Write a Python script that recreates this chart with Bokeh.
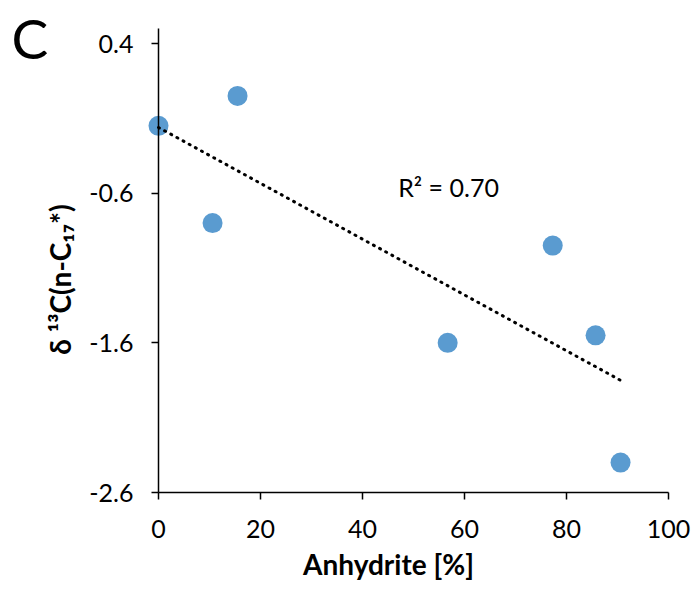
import numpy as np
from bokeh.plotting import figure
from bokeh.models import FixedTicker, Range1d, Label, LinearAxis
from bokeh.embed import file_html
from bokeh.resources import INLINE

# ---- data ----
anhydrite = [0.0, 15.5, 10.6, 56.7, 77.3, 85.7, 90.6]
d13c = [-0.15, 0.05, -0.80, -1.60, -0.95, -1.55, -2.40]
x_ticks = [0, 20, 40, 60, 80, 100]
y_ticks = [-2.6, -1.6, -0.6, 0.4]
y_tick_labels = ["-2.6", "-1.6", "-0.6", "0.4"]
r2_text = "R\u00b2 = 0.70"
panel_letter = "C"
x_title = "Anhydrite [%]"
y_title = "\u03b4 \u00b9\u00b3C(n-C\u2081\u2087*)"

FONT = "Lato"
W, H = 697, 589
# pixel geometry of the plot (x=0 and y=0.4 positions, scale)
X0_PX, PX_PER_X = 158.0, 5.1
Y_TOP_TICK_PX, PX_PER_Y = 43.0, 149.67

x_start = -X0_PX / PX_PER_X
x_end = x_start + W / PX_PER_X
y_end = y_ticks[-1] + Y_TOP_TICK_PX / PX_PER_Y
y_start = y_end - H / PX_PER_Y


def px_to_x(px):
    return x_start + px / PX_PER_X


def py_to_y(py):
    return y_end - py / PX_PER_Y


# linear trend fitted on the data
slope, intercept = np.polyfit(anhydrite, d13c, 1)
trend_x = [0.0, max(anhydrite)]
trend_y = [intercept + slope * v for v in trend_x]

p = figure(width=W, height=H, output_backend="svg", toolbar_location=None,
           x_range=Range1d(x_start, x_end), y_range=Range1d(y_start, y_end),
           x_axis_location=None, y_axis_location=None,
           min_border=0)
p.outline_line_color = None
p.grid.visible = False
p.background_fill_color = "white"
p.border_fill_color = "white"

xa = LinearAxis(ticker=FixedTicker(ticks=x_ticks), fixed_location=y_ticks[0],
                bounds=(x_ticks[0], x_ticks[-1]))
ya = LinearAxis(ticker=FixedTicker(ticks=y_ticks), fixed_location=x_ticks[0],
                bounds=(y_ticks[0], 0.5))
ya.major_label_overrides = {t: s for t, s in zip(y_ticks, y_tick_labels)}
for ax in (xa, ya):
    ax.axis_line_color = "black"
    ax.axis_line_width = 1.5
    ax.major_tick_line_color = "black"
    ax.major_tick_line_width = 1.5
    ax.major_tick_out = 7
    ax.major_tick_in = 0
    ax.minor_tick_line_color = None
    ax.major_label_text_font = FONT
    ax.major_label_text_font_size = "25px"
    ax.major_label_text_color = "black"
xa.major_label_standoff = 20
ya.major_label_standoff = 18
p.add_layout(xa, "below")
p.add_layout(ya, "left")

# points then trend line on top
p.scatter(anhydrite, d13c, size=20, color="#5A9BD0", line_color=None)
p.line(trend_x, trend_y, line_color="black", line_width=3,
       line_dash="1 6", line_cap="round")

# axis titles (positioned as in the reference)
p.add_layout(Label(x=px_to_x(388), y=py_to_y(563), text=x_title, text_font=FONT,
                   text_font_size="28px", text_font_style="bold",
                   text_align="center", text_baseline="middle", text_color="black"))
p.add_layout(Label(x=px_to_x(59), y=py_to_y(279), text=y_title, text_font=FONT,
                   text_font_size="28px", text_font_style="bold", angle=np.pi / 2,
                   text_align="center", text_baseline="middle", text_color="black"))

p.add_layout(Label(x=47.0, y=-0.56, text=r2_text, text_font=FONT,
                   text_font_size="25px", text_baseline="middle",
                   text_align="left", text_color="black"))
p.add_layout(Label(x=-28.8, y=0.66, text=panel_letter, text_font=FONT,
                   text_font_size="55px", text_baseline="top",
                   text_align="left", text_color="black"))

open("out.html", "w").write(file_html(p, INLINE))
